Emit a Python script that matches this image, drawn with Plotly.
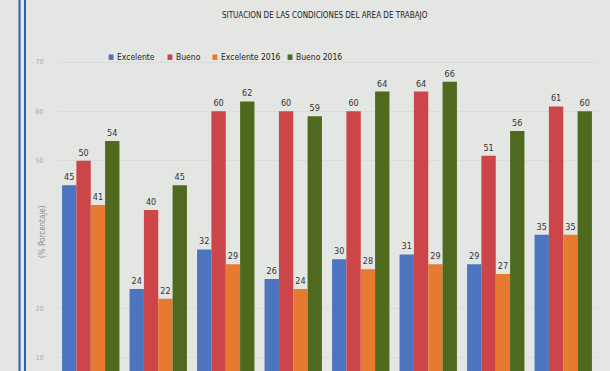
import plotly.graph_objects as go

categories = ["1", "2", "3", "4", "5", "6", "7", "8"]
excelente = [45, 24, 32, 26, 30, 31, 29, 35]
bueno = [50, 40, 60, 60, 60, 64, 51, 61]
excelente_2016 = [41, 22, 29, 24, 28, 29, 27, 35]
bueno_2016 = [54, 45, 62, 59, 64, 66, 56, 60]
series_names = ["Excelente", "Bueno", "Excelente 2016", "Bueno 2016"]
series_colors = ["#4d74c0", "#cc4548", "#e57a30", "#4f6a1e"]
tick_vals = [10, 20, 50, 60, 70]

FONT = "DejaVu Sans Condensed, Liberation Sans Narrow, Liberation Sans, sans-serif"

fig = go.Figure()
for name, vals, col in zip(series_names,
                           [excelente, bueno, excelente_2016, bueno_2016],
                           series_colors):
    fig.add_trace(go.Bar(
        x=categories, y=vals, name=name,
        marker=dict(color=col, line=dict(width=0)),
        text=vals, textposition="outside",
        textfont=dict(family=FONT, size=9, color="#333333"),
        cliponaxis=False, showlegend=False,
    ))

W, H = 610, 371
ml, mr, mt, mb = 57, 13, 40, 0

def px_x(p):
    return (p - ml) / (W - ml - mr)

def px_y(p):
    return (H - mb - p) / (H - mt - mb)

# legend built as text: colored square + series name
legend_marker_px = [111, 170, 215, 290]
legend_anns = []
for name, col, mx in zip(series_names, series_colors, legend_marker_px):
    legend_anns.append(dict(
        text="■", xref="paper", yref="paper", x=px_x(mx), y=px_y(57),
        xanchor="center", yanchor="middle", showarrow=False,
        font=dict(family=FONT, size=7, color=col)))
    legend_anns.append(dict(
        text=name, xref="paper", yref="paper", x=px_x(mx + 4), y=px_y(57),
        xanchor="left", yanchor="middle", showarrow=False,
        font=dict(family=FONT, size=8.5, color="#222222")))

fig.update_layout(
    width=W, height=H,
    margin=dict(l=ml, r=mr, t=mt, b=mb),
    barmode="group", bargap=0.15, bargroupgap=0,
    paper_bgcolor="#e4e6e4", plot_bgcolor="#e4e6e4",
    font=dict(family=FONT, color="#333333"),
    showlegend=False,
    xaxis=dict(showticklabels=False, showgrid=False, zeroline=False,
               showline=False),
    yaxis=dict(range=[7.36, 74.46], tickvals=tick_vals,
               tickfont=dict(family=FONT, size=7, color="#a8aaa8"),
               ticks="outside", ticklen=11, tickcolor="rgba(0,0,0,0)",
               showgrid=True, gridcolor="#dadcda", gridwidth=1,
               zeroline=False, showline=False),
    annotations=[
        dict(text="SITUACION DE LAS CONDICIONES DEL AREA DE TRABAJO",
             xref="paper", yref="paper", x=px_x(325), y=px_y(15),
             xanchor="center", yanchor="middle", showarrow=False,
             font=dict(family=FONT, size=8, color="#222222")),
        dict(text="(% Porcentaje)", textangle=-90,
             xref="paper", yref="paper", x=px_x(42), y=px_y(232),
             xanchor="center", yanchor="middle", showarrow=False,
             font=dict(family=FONT, size=8, color="#888a88")),
    ] + legend_anns,
    shapes=[
        dict(type="line", xref="paper", yref="paper",
             x0=px_x(19.5), x1=px_x(19.5), y0=px_y(0), y1=px_y(371),
             line=dict(color="#2d5fb4", width=2)),
        dict(type="line", xref="paper", yref="paper",
             x0=px_x(25), x1=px_x(25), y0=px_y(0), y1=px_y(371),
             line=dict(color="#2d5fb4", width=2)),
    ],
)

fig.write_html(
    "out.html",
    config={"displayModeBar": False},
    post_script="document.body.style.margin='0px';"
                "document.body.style.overflow='hidden';",
)
